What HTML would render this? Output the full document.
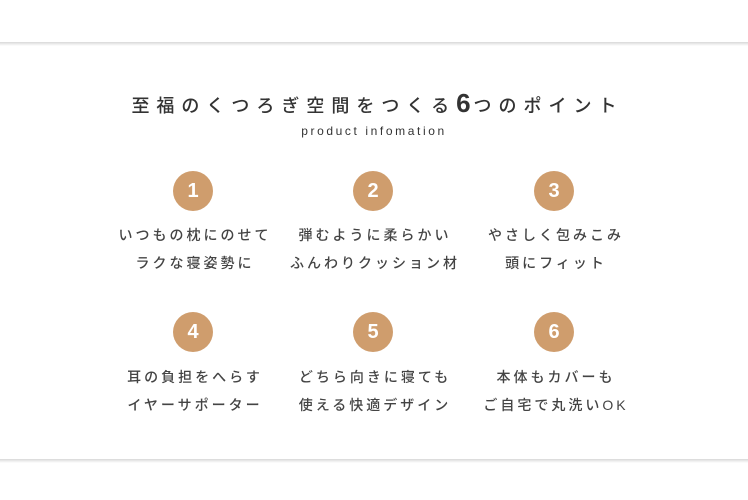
<!DOCTYPE html>
<html><head><meta charset="utf-8"><style>
body{margin:0;width:748px;height:500px;background:#fff;position:relative;overflow:hidden;font-family:"Liberation Sans","Noto Sans CJK JP",sans-serif;color:#333}
.ln{position:absolute;left:0;width:748px;height:4px;background:linear-gradient(#d8d8d8,#ececec 50%,#fff)}
.t{position:absolute;left:0;width:748px;text-align:center}
.c{position:absolute;width:40px;height:40px;border-radius:50%;background:#cf9d6d;color:#fff;font-weight:bold;font-size:20px;line-height:40px;text-align:center}
.tx{position:absolute;width:200px;text-align:center;font-size:14px;letter-spacing:3px;color:#444;line-height:28px;font-weight:500}
</style></head><body>
<div class="ln" style="top:42px"></div>
<div class="ln" style="top:459px"></div>
<div class="t" style="top:88px;font-size:18px;letter-spacing:7px;font-weight:500;color:#333;padding-left:7px;box-sizing:border-box">至福のくつろぎ空間をつくる<span style="font-size:26px;letter-spacing:3px;font-weight:bold">6</span>つのポイント</div>
<div class="t" style="top:124px;font-size:12px;letter-spacing:2.6px;">product infomation</div>

<div class="c" style="left:173px;top:171px">1</div>
<div class="c" style="left:353px;top:171px">2</div>
<div class="c" style="left:534px;top:171px">3</div>
<div class="tx" style="left:95px;top:221px">いつもの枕にのせて<br>ラクな寝姿勢に</div>
<div class="tx" style="left:275px;top:221px">弾むように柔らかい<br>ふんわりクッション材</div>
<div class="tx" style="left:456px;top:221px">やさしく包みこみ<br>頭にフィット</div>

<div class="c" style="left:173px;top:312px">4</div>
<div class="c" style="left:353px;top:312px">5</div>
<div class="c" style="left:534px;top:312px">6</div>
<div class="tx" style="left:95px;top:363px">耳の負担をへらす<br>イヤーサポーター</div>
<div class="tx" style="left:275px;top:363px">どちら向きに寝ても<br>使える快適デザイン</div>
<div class="tx" style="left:456px;top:363px">本体もカバーも<br>ご自宅で丸洗いOK</div>
</body></html>
